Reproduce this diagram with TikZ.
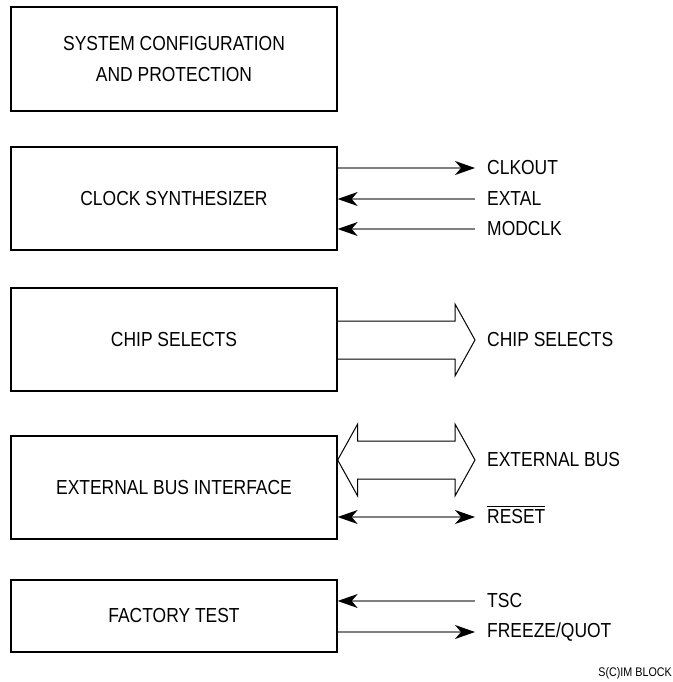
\documentclass[tikz,border=0pt]{standalone}
\usepackage{fontspec}
\setmainfont[FakeStretch=0.86]{Liberation Sans}
\usetikzlibrary{arrows.meta, calc}
\newcommand{\barred}[1]{\setbox0\hbox{#1}\rlap{\raisebox{\dimexpr\ht0+2.5pt\relax}[0pt][0pt]{\rule{\wd0}{0.9pt}}}\box0}

\begin{document}
\begin{tikzpicture}[x=1pt, y=-1pt,
	block/.style={draw, line width=1.3pt, minimum width=326pt, minimum height=103pt,
		align=center, font=\fontsize{20.3}{31.5}\selectfont},
	pin/.style={anchor=west, inner xsep=12pt, inner ysep=0pt, font=\fontsize{20.3}{22}\selectfont},
	sig/.style={draw=gray, line width=1.1pt, -{Stealth[length=20pt, width=14pt, inset=6pt, black]}},
	sigboth/.style={draw=gray, line width=1.1pt,
		{Stealth[length=20pt, width=14pt, inset=6pt, black]}-{Stealth[length=20pt, width=14pt, inset=6pt, black]}},
	bus/.style={draw, line width=1pt, line join=miter}]
	\useasboundingbox (0,0) rectangle (672,682);

	% blocks
	\node[block, minimum height=104pt] (sys) at (174,59) {SYSTEM CONFIGURATION\\AND PROTECTION};
	\node[block] (clock) at (174,198.5) {CLOCK SYNTHESIZER};
	\node[block] (chip) at (174,339.5) {CHIP SELECTS};
	\node[block] (ebi) at (174,487.5) {EXTERNAL BUS INTERFACE};
	\node[block, minimum height=72pt] (test) at (174,616) {FACTORY TEST};

	% clock pins
	\node[pin] (clkout) at (475,168) {CLKOUT};
	\node[pin] (extal) at (475,199) {EXTAL};
	\node[pin] (modclk) at (475,229) {MODCLK};
	\draw[sig] (clock.east |- clkout) -- (clkout.west);
	\draw[sig] (extal.west) -- (clock.east |- extal);
	\draw[sig] (modclk.west) -- (clock.east |- modclk);

	% chip selects
	\node[pin] (cs) at (475,340) {CHIP SELECTS};
	\draw[bus] ($(chip.east |- cs)+(0,-19)$) -- ($(cs.west)+(-20,-19)$) -- ++(0,-17) -- (cs.west)
		-- ($(cs.west)+(-20,36)$) -- ++(0,-17) -- ($(chip.east |- cs)+(0,19)$);

	% external bus
	\node[pin] (eb) at (475,460) {EXTERNAL BUS};
	\node[pin] (rst) at (475,517) {\barred{RESET}};
	\draw[bus] (ebi.east |- eb) -- ($(ebi.east |- eb)+(20,-36)$) -- ++(0,17)
		-- ($(eb.west)+(-20,-19)$) -- ++(0,-17) -- (eb.west)
		-- ($(eb.west)+(-20,36)$) -- ++(0,-17)
		-- ($(ebi.east |- eb)+(20,19)$) -- ++(0,17) -- cycle;
	\draw[sigboth] (ebi.east |- rst) -- (rst.west);

	% factory test
	\node[pin] (tsc) at (475,601) {TSC};
	\node[pin] (frz) at (475,632) {FREEZE/QUOT};
	\draw[sig] (tsc.west) -- (test.east |- tsc);
	\draw[sig] (test.east |- frz) -- (frz.west);

	\node[anchor=east, inner sep=0pt, font=\fontsize{12.5}{14}\selectfont] (tag) at (672,673) {S(C)IM BLOCK};
\end{tikzpicture}
\end{document}
